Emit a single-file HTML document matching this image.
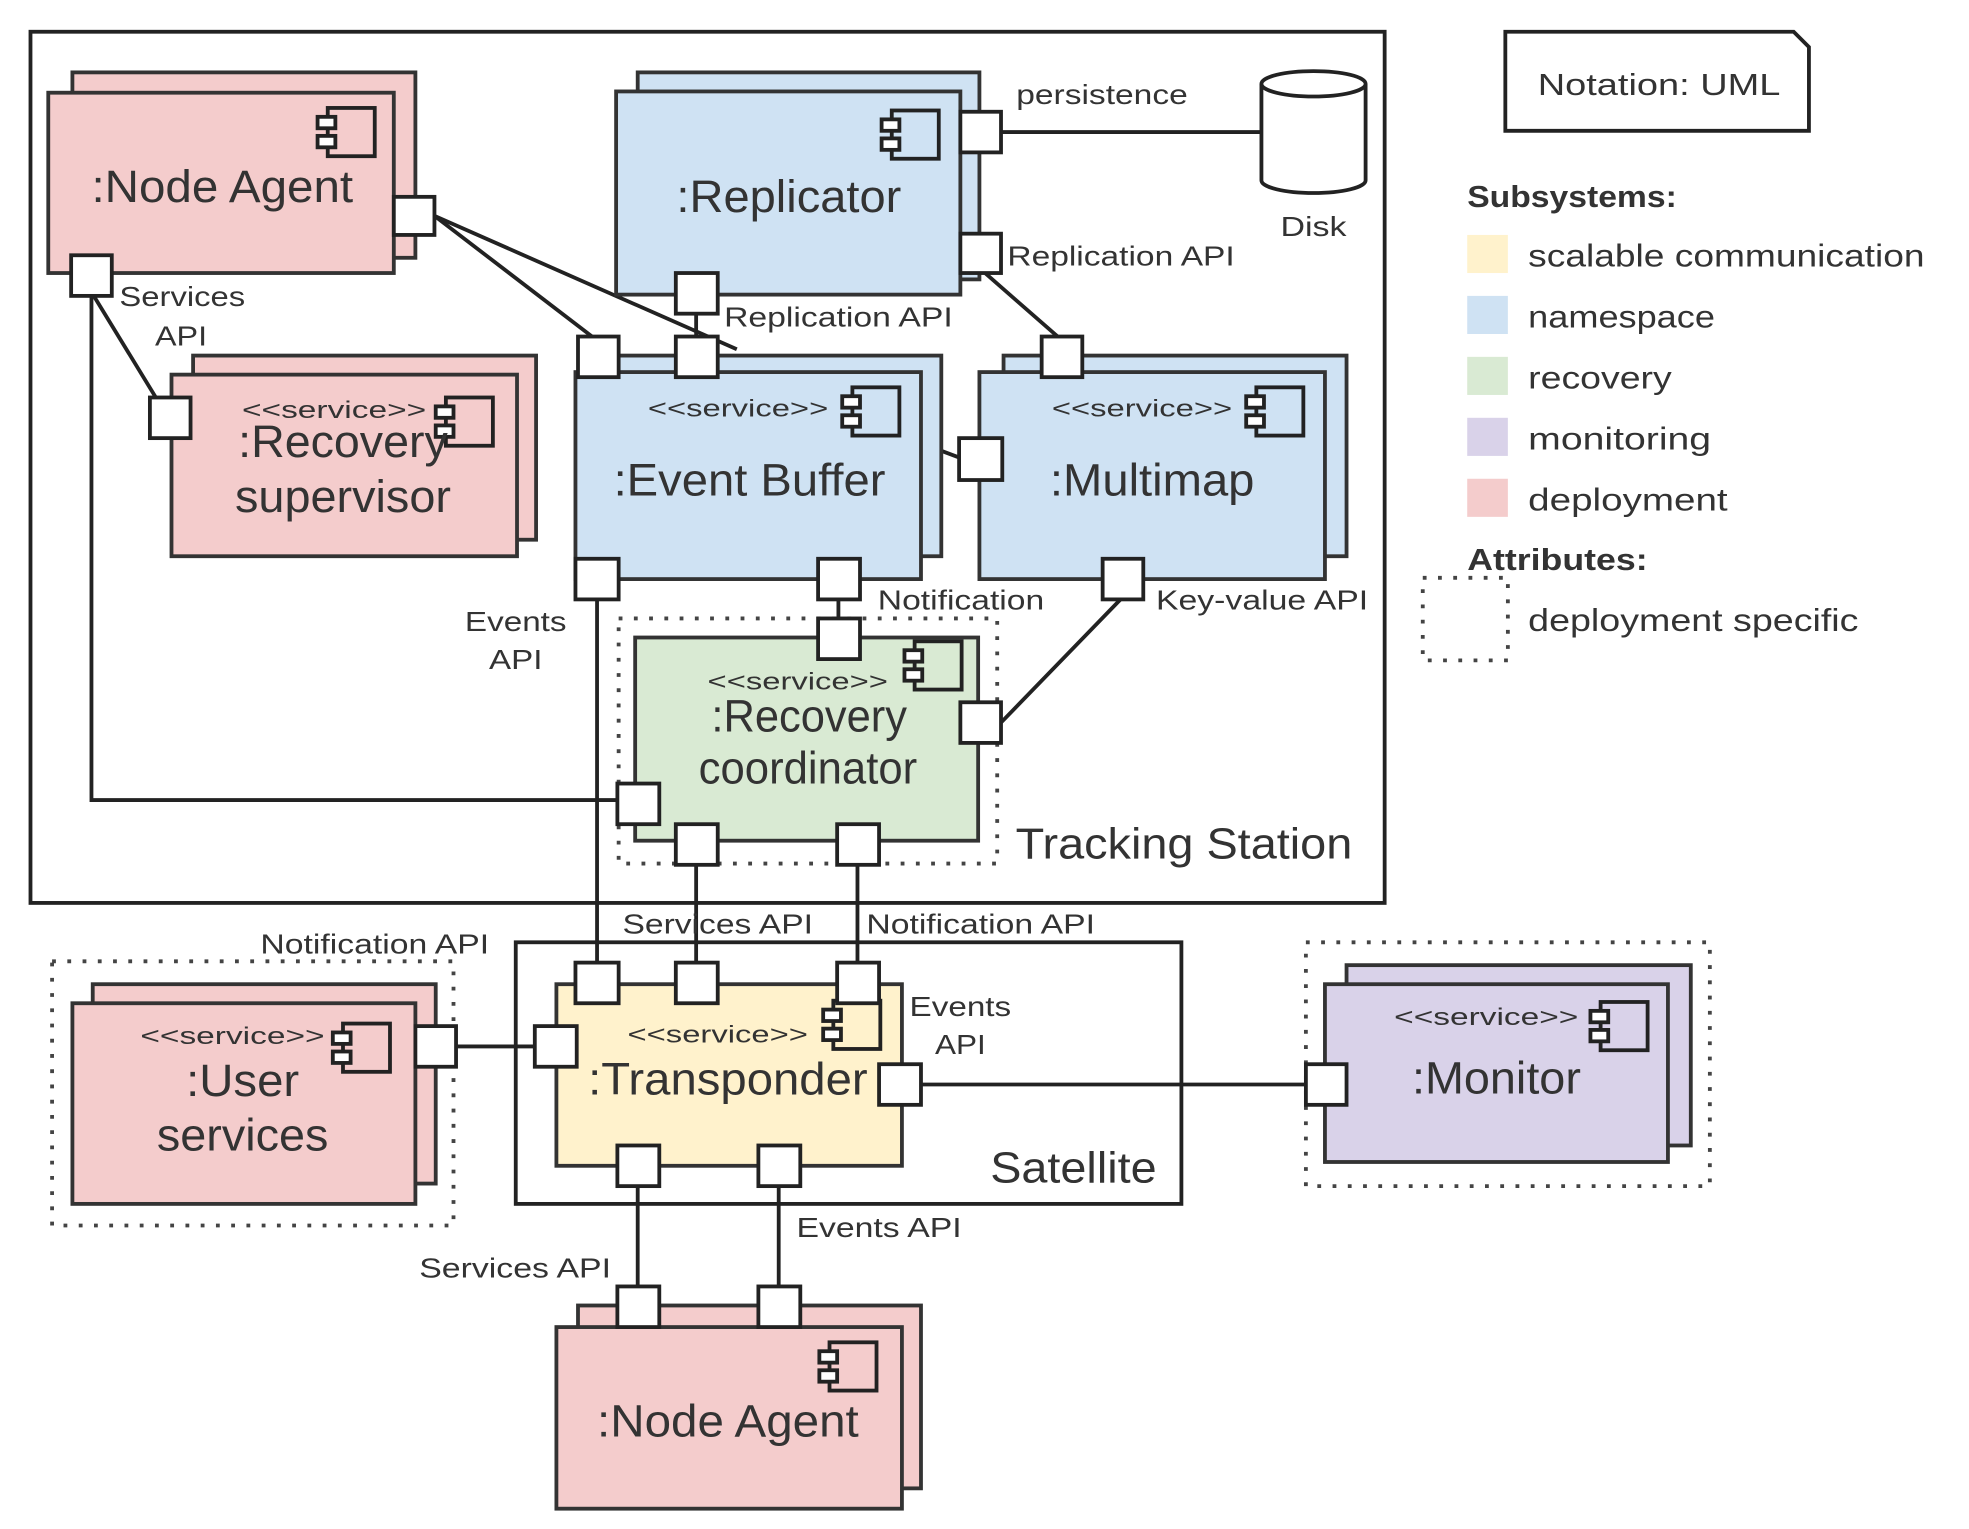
<!DOCTYPE html>
<html><head><meta charset="utf-8"><style>
html,body{margin:0;padding:0;background:#fff;}
svg{display:block;}
text{font-family:"Liberation Sans",sans-serif;fill:#333;}
.p{fill:#f4cccc;stroke:#333;stroke-width:3;}
.bl{fill:#cfe2f3;stroke:#333;stroke-width:3;}
.g{fill:#d9ead3;stroke:#333;stroke-width:3;}
.y{fill:#fff2cc;stroke:#333;stroke-width:3;}
.v{fill:#d9d2e9;stroke:#333;stroke-width:3;}
.port{fill:#fff;stroke:#222;stroke-width:3;}
.ln{stroke:#222;stroke-width:3;fill:none;}
.dot{fill:none;stroke:#444;stroke-width:3;stroke-dasharray:3,9;}
.big{font-size:36px;text-anchor:middle;}
.st{font-size:19px;text-anchor:middle;}
.lb{font-size:22px;}
</style></head><body>
<svg width="1969" height="1529" viewBox="0 0 1550 1204" preserveAspectRatio="none">
<defs>
<g id="ic"><rect x="8" y="0" width="37" height="38" fill="none" stroke="#222" stroke-width="3"/><rect x="0" y="7" width="14" height="9" fill="#fff" stroke="#222" stroke-width="3"/><rect x="0" y="22" width="14" height="9" fill="#fff" stroke="#222" stroke-width="3"/></g>
</defs>
<rect x="24" y="25" width="1066" height="686" fill="none" stroke="#222" stroke-width="3"/>
<text x="932" y="676" class="big" style="font-size:34px" textLength="265" lengthAdjust="spacingAndGlyphs">Tracking Station</text>
<path d="M1185 25 H1412 L1424 37 V103 H1185 Z" fill="#fff" stroke="#222" stroke-width="3"/>
<text x="1306" y="75" class="st" style="font-size:24px" textLength="191" lengthAdjust="spacingAndGlyphs">Notation: UML</text>

<line class="ln" x1="342" y1="170" x2="470" y2="268"/>
<line class="ln" x1="342" y1="170" x2="580" y2="275"/>
<line class="ln" x1="72" y1="230" x2="130" y2="325"/>
<polyline class="ln" points="72,230 72,630 490,630"/>
<line class="ln" x1="548" y1="245" x2="548" y2="268"/>
<line class="ln" x1="772" y1="212" x2="836" y2="268"/>
<line class="ln" x1="788" y1="104" x2="995" y2="104"/>
<line class="ln" x1="741" y1="355" x2="757" y2="361"/>
<line class="ln" x1="470" y1="470" x2="470" y2="760"/>
<line class="ln" x1="660" y1="470" x2="660" y2="490"/>
<line class="ln" x1="884" y1="470" x2="788" y2="569"/>
<line class="ln" x1="548" y1="679" x2="548" y2="760"/>
<line class="ln" x1="675" y1="679" x2="675" y2="760"/>
<line class="ln" x1="357" y1="824" x2="423" y2="824"/>
<line class="ln" x1="723" y1="854" x2="1030" y2="854"/>
<line class="ln" x1="502" y1="932" x2="502" y2="1015"/>
<line class="ln" x1="613" y1="932" x2="613" y2="1015"/>

<rect class="p" x="57" y="57" width="270" height="146"/>
<rect class="p" x="38" y="73" width="272" height="142"/>
<use href="#ic" x="250" y="85"/>
<text x="175" y="159" class="big" textLength="206" lengthAdjust="spacingAndGlyphs">:Node Agent</text>

<rect class="bl" x="502" y="57" width="269" height="163"/>
<rect class="bl" x="485" y="72" width="271" height="160"/>
<use href="#ic" x="694" y="87"/>
<text x="621" y="167" class="big" textLength="177" lengthAdjust="spacingAndGlyphs">:Replicator</text>

<path d="M993 66 V142 A41 10 0 0 0 1075 142 V66" fill="#fff" stroke="#222" stroke-width="3"/>
<ellipse cx="1034" cy="66" rx="41" ry="10" fill="#fff" stroke="#222" stroke-width="3"/>
<text x="1034" y="186" class="st" style="font-size:22px" textLength="52" lengthAdjust="spacingAndGlyphs">Disk</text>

<rect class="p" x="152" y="280" width="270" height="145"/>
<rect class="p" x="135" y="295" width="272" height="143"/>
<use href="#ic" x="343" y="313"/>
<text x="263" y="329" class="st" textLength="145" lengthAdjust="spacingAndGlyphs">&lt;&lt;service&gt;&gt;</text>
<text x="270" y="360" class="big" textLength="165" lengthAdjust="spacingAndGlyphs">:Recovery</text>
<text x="270" y="403" class="big" textLength="170" lengthAdjust="spacingAndGlyphs">supervisor</text>

<rect class="bl" x="470" y="280" width="271" height="158"/>
<rect class="bl" x="453" y="293" width="272" height="163"/>
<use href="#ic" x="663" y="305"/>
<text x="581" y="328" class="st" textLength="142" lengthAdjust="spacingAndGlyphs">&lt;&lt;service&gt;&gt;</text>
<text x="590" y="390" class="big" textLength="214" lengthAdjust="spacingAndGlyphs">:Event Buffer</text>

<rect class="bl" x="790" y="280" width="270" height="158"/>
<rect class="bl" x="771" y="293" width="272" height="163"/>
<use href="#ic" x="981" y="305"/>
<text x="899" y="328" class="st" textLength="142" lengthAdjust="spacingAndGlyphs">&lt;&lt;service&gt;&gt;</text>
<text x="907" y="390" class="big" textLength="161" lengthAdjust="spacingAndGlyphs">:Multimap</text>

<rect class="dot" x="487" y="487" width="298" height="193"/>
<rect class="g" x="500" y="502" width="270" height="160"/>
<use href="#ic" x="712" y="505"/>
<text x="628" y="543" class="st" textLength="142" lengthAdjust="spacingAndGlyphs">&lt;&lt;service&gt;&gt;</text>
<text x="637" y="576" class="big" textLength="154" lengthAdjust="spacingAndGlyphs">:Recovery</text>
<text x="636" y="617" class="big" textLength="172" lengthAdjust="spacingAndGlyphs">coordinator</text>

<rect x="406" y="742" width="524" height="206" fill="none" stroke="#222" stroke-width="3"/>
<text x="845" y="931" class="big" style="font-size:34px" textLength="131" lengthAdjust="spacingAndGlyphs">Satellite</text>

<rect class="y" x="438" y="775" width="272" height="143"/>
<use href="#ic" x="648" y="788"/>
<text x="565" y="821" class="st" textLength="142" lengthAdjust="spacingAndGlyphs">&lt;&lt;service&gt;&gt;</text>
<text x="573" y="862" class="big" textLength="220" lengthAdjust="spacingAndGlyphs">:Transponder</text>

<rect class="dot" x="41" y="757" width="316" height="208"/>
<rect class="p" x="73" y="775" width="270" height="157"/>
<rect class="p" x="57" y="790" width="270" height="158"/>
<use href="#ic" x="262" y="806"/>
<text x="183" y="822" class="st" textLength="145" lengthAdjust="spacingAndGlyphs">&lt;&lt;service&gt;&gt;</text>
<text x="191" y="863" class="big" textLength="89" lengthAdjust="spacingAndGlyphs">:User</text>
<text x="191" y="906" class="big" textLength="135" lengthAdjust="spacingAndGlyphs">services</text>

<rect class="dot" x="1028" y="742" width="318" height="192"/>
<rect class="v" x="1060" y="760" width="271" height="142"/>
<rect class="v" x="1043" y="775" width="270" height="140"/>
<use href="#ic" x="1252" y="789"/>
<text x="1170" y="807" class="st" textLength="145" lengthAdjust="spacingAndGlyphs">&lt;&lt;service&gt;&gt;</text>
<text x="1178" y="861" class="big" textLength="133" lengthAdjust="spacingAndGlyphs">:Monitor</text>

<rect class="p" x="455" y="1028" width="270" height="144"/>
<rect class="p" x="438" y="1045" width="272" height="143"/>
<use href="#ic" x="645" y="1057"/>
<text x="573" y="1131" class="big" textLength="206" lengthAdjust="spacingAndGlyphs">:Node Agent</text>

<g class="port">
<rect x="310" y="155" width="32" height="30"/>
<rect x="56" y="201" width="32" height="32"/>
<rect x="756" y="88" width="32" height="32"/>
<rect x="756" y="184" width="32" height="31"/>
<rect x="532" y="215" width="33" height="32"/>
<rect x="118" y="313" width="32" height="32"/>
<rect x="455" y="265" width="32" height="32"/>
<rect x="532" y="265" width="33" height="32"/>
<rect x="453" y="440" width="34" height="32"/>
<rect x="644" y="440" width="33" height="32"/>
<rect x="820" y="265" width="32" height="32"/>
<rect x="755" y="345" width="34" height="33"/>
<rect x="868" y="440" width="32" height="32"/>
<rect x="644" y="487" width="33" height="32"/>
<rect x="756" y="553" width="32" height="32"/>
<rect x="486" y="617" width="33" height="32"/>
<rect x="532" y="649" width="33" height="32"/>
<rect x="659" y="649" width="33" height="32"/>
<rect x="453" y="758" width="34" height="32"/>
<rect x="532" y="758" width="33" height="32"/>
<rect x="659" y="758" width="33" height="32"/>
<rect x="421" y="808" width="33" height="32"/>
<rect x="692" y="838" width="33" height="32"/>
<rect x="486" y="902" width="33" height="32"/>
<rect x="597" y="902" width="33" height="32"/>
<rect x="327" y="808" width="32" height="32"/>
<rect x="1028" y="838" width="32" height="32"/>
<rect x="486" y="1013" width="33" height="32"/>
<rect x="597" y="1013" width="33" height="32"/>
</g>

<g class="lb">
<text x="800" y="82" textLength="135" lengthAdjust="spacingAndGlyphs">persistence</text>
<text x="793" y="209" textLength="179" lengthAdjust="spacingAndGlyphs">Replication API</text>
<text x="570" y="257" textLength="180" lengthAdjust="spacingAndGlyphs">Replication API</text>
<text x="94" y="241" textLength="99" lengthAdjust="spacingAndGlyphs">Services</text>
<text x="122" y="272" textLength="41" lengthAdjust="spacingAndGlyphs">API</text>
<text x="366" y="497" textLength="80" lengthAdjust="spacingAndGlyphs">Events</text>
<text x="385" y="527" textLength="42" lengthAdjust="spacingAndGlyphs">API</text>
<text x="691" y="480" textLength="131" lengthAdjust="spacingAndGlyphs">Notification</text>
<text x="910" y="480" textLength="167" lengthAdjust="spacingAndGlyphs">Key-value API</text>
<text x="490" y="735" textLength="150" lengthAdjust="spacingAndGlyphs">Services API</text>
<text x="682" y="735" textLength="180" lengthAdjust="spacingAndGlyphs">Notification API</text>
<text x="205" y="751" textLength="180" lengthAdjust="spacingAndGlyphs">Notification API</text>
<text x="716" y="800" textLength="80" lengthAdjust="spacingAndGlyphs">Events</text>
<text x="736" y="830" textLength="40" lengthAdjust="spacingAndGlyphs">API</text>
<text x="627" y="974" textLength="130" lengthAdjust="spacingAndGlyphs">Events API</text>
<text x="330" y="1006" textLength="151" lengthAdjust="spacingAndGlyphs">Services API</text>
</g>

<text x="1155" y="163" style="font-size:24px;font-weight:bold" textLength="165" lengthAdjust="spacingAndGlyphs">Subsystems:</text>
<rect x="1155" y="185" width="32" height="30" fill="#fff2cc"/>
<rect x="1155" y="233" width="32" height="30" fill="#cfe2f3"/>
<rect x="1155" y="281" width="32" height="30" fill="#d9ead3"/>
<rect x="1155" y="329" width="32" height="30" fill="#d9d2e9"/>
<rect x="1155" y="377" width="32" height="30" fill="#f4cccc"/>
<g style="font-size:25px">
<text x="1203" y="210" textLength="312" lengthAdjust="spacingAndGlyphs">scalable communication</text>
<text x="1203" y="258" textLength="147" lengthAdjust="spacingAndGlyphs">namespace</text>
<text x="1203" y="306" textLength="113" lengthAdjust="spacingAndGlyphs">recovery</text>
<text x="1203" y="354" textLength="144" lengthAdjust="spacingAndGlyphs">monitoring</text>
<text x="1203" y="402" textLength="157" lengthAdjust="spacingAndGlyphs">deployment</text>
<text x="1203" y="497" textLength="260" lengthAdjust="spacingAndGlyphs">deployment specific</text>
</g>
<text x="1155" y="449" style="font-size:24px;font-weight:bold" textLength="142" lengthAdjust="spacingAndGlyphs">Attributes:</text>
<rect class="dot" x="1120" y="455" width="67" height="65"/>
</svg>
</body></html>
